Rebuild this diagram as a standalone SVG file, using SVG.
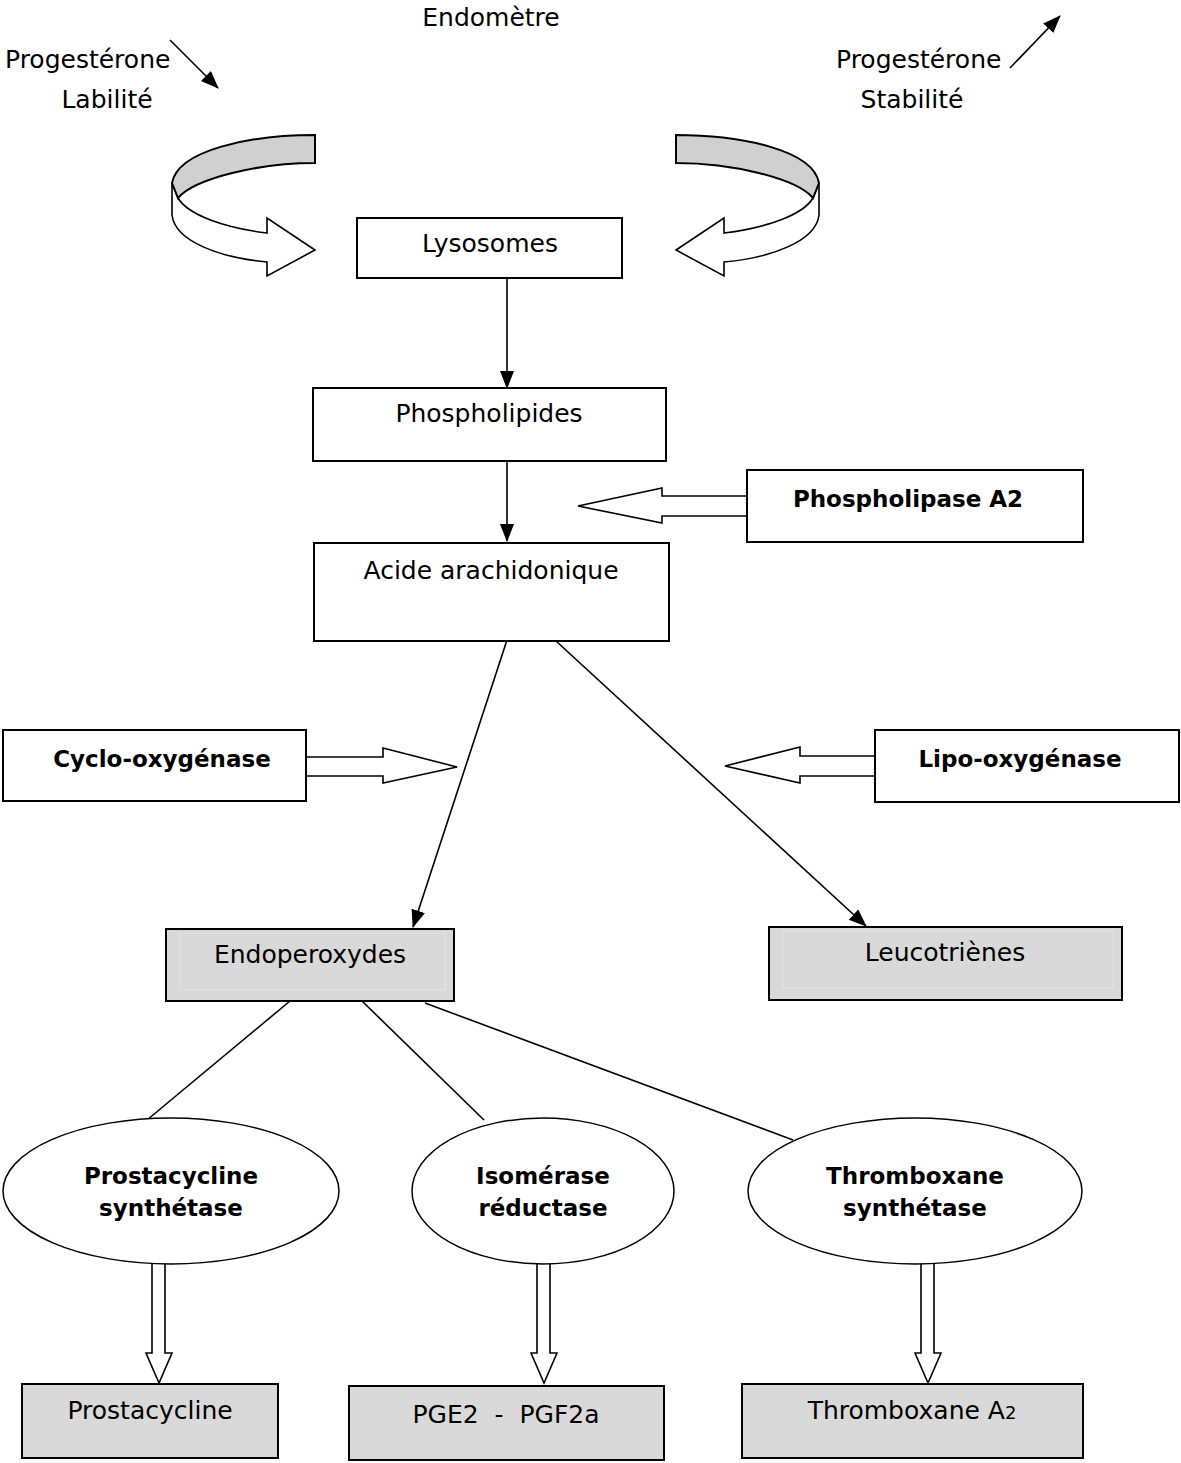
<svg xmlns="http://www.w3.org/2000/svg" width="1181" height="1463" viewBox="0 0 1181 1463">
<style>
text{font-family:"DejaVu Sans","Liberation Sans",sans-serif;font-size:25px;fill:#000}
.b{font-weight:bold;font-size:23px}
.m{text-anchor:middle}
.box{fill:#fff;stroke:#000;stroke-width:2}
.g{fill:#d9d9d9;stroke:#000;stroke-width:2}
.ell{fill:#fff;stroke:#000;stroke-width:1.5}
.ln{stroke:#000;stroke-width:1.6;fill:none}
.blk{fill:#fff;stroke:#000;stroke-width:1.6;stroke-linejoin:miter}
.band{fill:#d0d0d0;stroke:#000;stroke-width:2}
</style>
<defs>
<marker id="ah" markerUnits="userSpaceOnUse" markerWidth="20" markerHeight="16" refX="17" refY="7" orient="auto">
<path d="M0,0 L18,7 L0,14 Z" fill="#000"/>
</marker>
<g id="curl">
<path class="blk" d="M172,183 L172,215 C175,242 222,258 267,262 L267,276 L315,250 L267,218 L267,233 C225,228 188,215 178,198 Z"/>
<path class="band" d="M315,135 C250,135 178,150 172,183 L178,198 C195,178 260,163 315,163 Z"/>
</g>
</defs>

<g id="header">
<text class="m" x="491" y="26">Endomètre</text>
<text x="5" y="68">Progestérone</text>
<text class="m" x="107" y="108">Labilité</text>
<text x="836" y="68">Progestérone</text>
<text class="m" x="912" y="108">Stabilité</text>
</g>

<g id="curl-left"><use href="#curl"/></g>
<g id="curl-right"><use href="#curl" transform="translate(991,0) scale(-1,1)"/></g>

<g id="connectors">
<line class="ln" x1="170" y1="40" x2="218" y2="88" marker-end="url(#ah)"/>
<line class="ln" x1="1010" y1="68" x2="1060" y2="16" marker-end="url(#ah)"/>
<line class="ln" x1="507" y1="278" x2="507" y2="388" marker-end="url(#ah)"/>
<line class="ln" x1="507" y1="461" x2="507" y2="541" marker-end="url(#ah)"/>
<line class="ln" x1="507" y1="640" x2="413" y2="927" marker-end="url(#ah)"/>
<line class="ln" x1="556" y1="641" x2="866" y2="926" marker-end="url(#ah)"/>
<line class="ln" x1="290" y1="1001" x2="147" y2="1120"/>
<line class="ln" x1="362" y1="1001" x2="484" y2="1120"/>
<line class="ln" x1="425" y1="1003" x2="793" y2="1140"/>
<path class="blk" d="M747,496 L662,496 L662,488 L578,506 L662,523 L662,516 L747,516"/>
<path class="blk" d="M306,757 L383,757 L383,748 L457,767 L383,783 L383,776 L306,776"/>
<path class="blk" d="M875,756 L800,756 L800,747 L725,766 L800,783 L800,776 L875,776"/>
<path class="blk" d="M152,1264 L152,1353 L146,1353 L159,1383 L172,1353 L165,1353 L165,1264"/>
<path class="blk" d="M537,1264 L537,1353 L531,1353 L544,1383 L557,1353 L550,1353 L550,1264"/>
<path class="blk" d="M921,1264 L921,1353 L915,1353 L928,1383 L941,1353 L934,1353 L934,1264"/>
</g>

<g id="lysosomes">
<rect class="box" x="357" y="218" width="265" height="60"/>
<text class="m" x="490" y="252">Lysosomes</text>
</g>
<g id="phospholipides">
<rect class="box" x="313" y="388" width="353" height="73"/>
<text class="m" x="489" y="422">Phospholipides</text>
</g>
<g id="acide">
<rect class="box" x="314" y="543" width="355" height="98"/>
<text class="m" x="491" y="579">Acide arachidonique</text>
</g>
<g id="phospholipase">
<rect class="box" x="747" y="470" width="336" height="72"/>
<text class="m b" x="908" y="507">Phospholipase A2</text>
</g>
<g id="cyclo">
<rect class="box" x="3" y="730" width="303" height="71"/>
<text class="m b" x="162" y="767">Cyclo-oxygénase</text>
</g>
<g id="lipo">
<rect class="box" x="875" y="730" width="304" height="72"/>
<text class="m b" x="1020" y="767">Lipo-oxygénase</text>
</g>
<g id="endoperoxydes">
<rect class="g" x="166" y="929" width="288" height="72"/>
<rect x="180" y="933" width="265" height="57" fill="none" stroke="#e6e6e6" stroke-width="1"/>
<text class="m" x="310" y="963">Endoperoxydes</text>
</g>
<g id="leucotrienes">
<rect class="g" x="769" y="927" width="353" height="73"/>
<rect x="783" y="931" width="330" height="57" fill="none" stroke="#e6e6e6" stroke-width="1"/>
<text class="m" x="945" y="961">Leucotriènes</text>
</g>
<g id="prostacycline-synthetase">
<ellipse class="ell" cx="171" cy="1191" rx="168" ry="73"/>
<text class="m b" x="171" y="1184">Prostacycline</text>
<text class="m b" x="171" y="1216">synthétase</text>
</g>
<g id="isomerase">
<ellipse class="ell" cx="543" cy="1191" rx="131" ry="73"/>
<text class="m b" x="543" y="1184">Isomérase</text>
<text class="m b" x="543" y="1216">réductase</text>
</g>
<g id="thromboxane-synthetase">
<ellipse class="ell" cx="915" cy="1191" rx="167" ry="73"/>
<text class="m b" x="915" y="1184">Thromboxane</text>
<text class="m b" x="915" y="1216">synthétase</text>
</g>
<g id="prostacycline">
<rect class="g" x="22" y="1384" width="256" height="74"/>
<text class="m" x="150" y="1419">Prostacycline</text>
</g>
<g id="pge2">
<rect class="g" x="349" y="1386" width="315" height="74"/>
<text class="m" x="506" y="1423" xml:space="preserve">PGE2  -  PGF2a</text>
</g>
<g id="thromboxane-a2">
<rect class="g" x="742" y="1384" width="341" height="74"/>
<text class="m" x="912" y="1419">Thromboxane A<tspan font-size="18">2</tspan></text>
</g>
</svg>
